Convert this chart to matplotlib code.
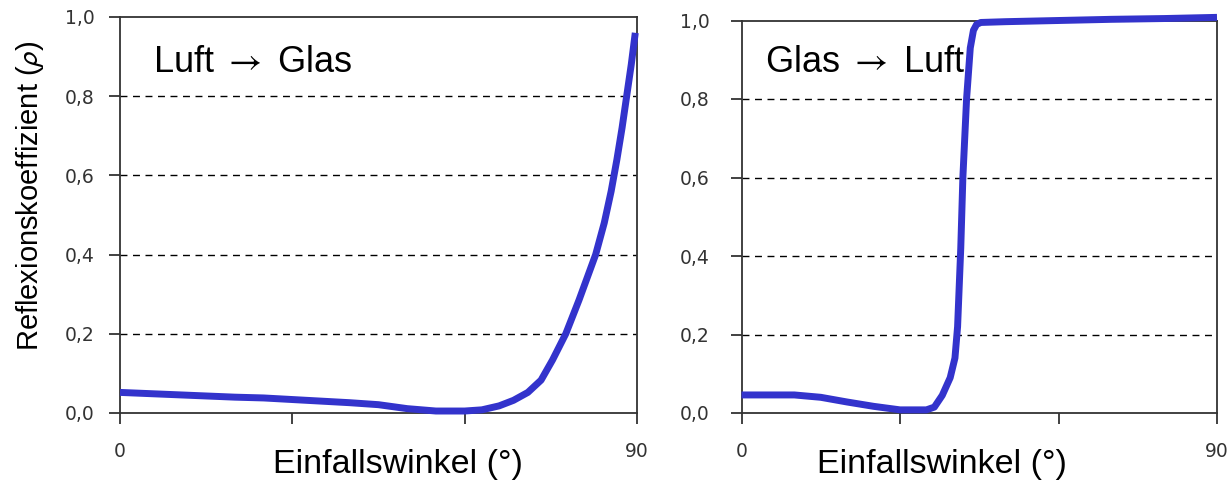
import matplotlib
matplotlib.use("Agg")
import matplotlib.pyplot as plt

plt.rcParams["mathtext.fontset"] = "stixsans"

# ---- data ----
left_angle = [0, 10, 20, 25, 30, 40, 45, 50, 55, 60, 63, 66, 68.5, 71, 73.3, 75.3, 77.6, 79.9, 82.8, 84.3, 85.5, 86.5, 87.4, 88.2, 89.0, 89.7]
left_refl = [0.052, 0.046, 0.040, 0.038, 0.034, 0.026, 0.021, 0.011, 0.005, 0.005, 0.008, 0.018, 0.032, 0.052, 0.083, 0.134, 0.20, 0.285, 0.40, 0.48, 0.56, 0.64, 0.72, 0.80, 0.88, 0.96]

right_angle = [0, 5, 10, 15, 20, 25, 30, 35, 36.5, 38, 39.5, 40.4, 40.9, 41.5, 41.9, 42.6, 43.3, 43.9, 44.5, 45.3, 50, 60, 70, 80, 90]
right_refl = [0.046, 0.046, 0.046, 0.040, 0.028, 0.017, 0.008, 0.008, 0.015, 0.045, 0.09, 0.14, 0.22, 0.42, 0.60, 0.80, 0.93, 0.975, 0.99, 0.995, 0.997, 1.0, 1.003, 1.005, 1.008]

x_ticks = [0, 30, 60, 90]
x_ticklabels = ["0", "", "", "90"]
y_ticks = [0.0, 0.2, 0.4, 0.6, 0.8, 1.0]
y_ticklabels = ["0,0", "0,2", "0,4", "0,6", "0,8", "1,0"]
titles = ["Luft $\\rightarrow$ Glas", "Glas $\\rightarrow$ Luft"]
xlabel = "Einfallswinkel (°)"
ylabel = "Reflexionskoeffizient ($\\rho$)"

W, H = 1231, 484
fig = plt.figure(figsize=(W / 100, H / 100), dpi=100)

line_color = "#3333cc"
spine_color = "#333333"
text_fam = ["Liberation Sans", "DejaVu Sans"]

def px_axes(x0, x1, ybot, ytop):
    return fig.add_axes([x0 / W, 1 - ybot / H, (x1 - x0) / W, (ybot - ytop) / H])

axL = px_axes(120, 637, 413, 17)
axR = px_axes(741.5, 1217, 413, 20.5)

for ax, xs, ys, title, tx, ty, ypad in [
    (axL, left_angle, left_refl, titles[0], 0.064, 0.886, 10),
    (axR, right_angle, right_refl, titles[1], 0.049, 0.894, 15),
]:
    ax.set_xlim(0, 90)
    ax.set_ylim(0, 1.0)
    for yv in y_ticks[1:-1]:
        ax.axhline(yv, color="black", lw=1.0, ls=(0, (5, 4)), zorder=1)
    ax.plot(xs, ys, color=line_color, lw=5.0, solid_capstyle="butt",
            solid_joinstyle="round", clip_on=False, zorder=3)
    ax.set_xticks(x_ticks)
    ax.set_xticklabels(x_ticklabels)
    ax.set_yticks(y_ticks)
    ax.set_yticklabels(y_ticklabels)
    ax.tick_params(axis="both", direction="out", length=8, width=1.3,
                   color=spine_color, labelsize=13.5, labelcolor="#333333")
    ax.tick_params(axis="x", pad=13)
    ax.tick_params(axis="y", pad=ypad)
    for sp in ax.spines.values():
        sp.set_color(spine_color)
        sp.set_linewidth(1.3)
    ax.text(tx, ty, title, transform=ax.transAxes, fontsize=26,
            family=text_fam, ha="left", va="center", color="black")

fig.text(398 / W, 1 - 465 / H, xlabel, fontsize=24.5, family=text_fam,
         ha="center", va="center")
fig.text(942 / W, 1 - 465 / H, xlabel, fontsize=24.5, family=text_fam,
         ha="center", va="center")
fig.text(30 / W, 1 - 196 / H, ylabel, fontsize=21, family=text_fam,
         ha="center", va="center", rotation=90)

fig.savefig("out.png", dpi=100)
